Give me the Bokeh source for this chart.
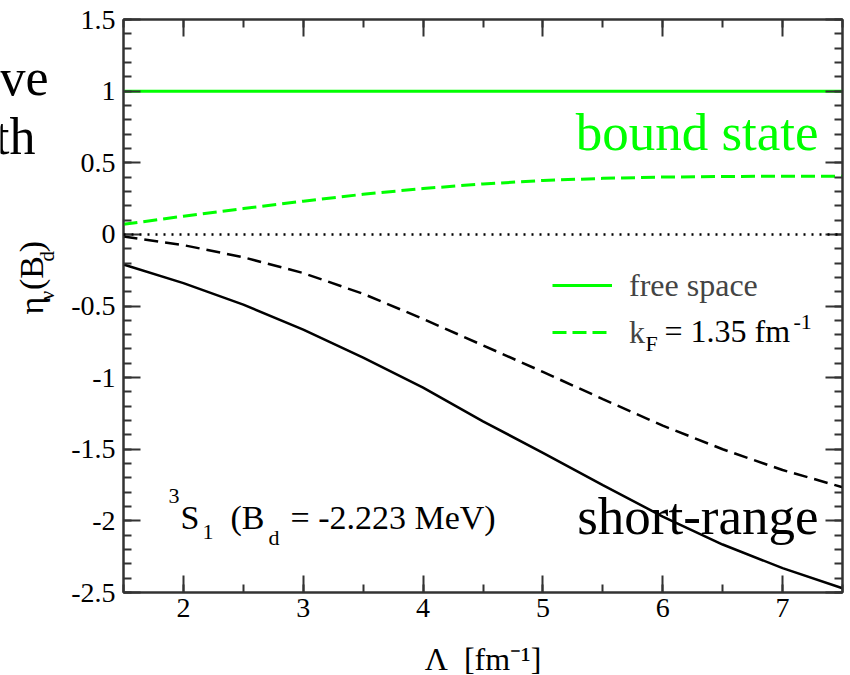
import math
from bokeh.plotting import figure
from bokeh.layouts import row
from bokeh.models import (Range1d, LinearAxis, FixedTicker, PrintfTickFormatter,
                          CustomJSTickFormatter, CustomLabelingPolicy,
                          Span, Label, Legend, LegendItem)
from bokeh.embed import file_html
from bokeh.resources import INLINE

# ---------------- data ----------------
lam = [1.5, 2.0, 2.5, 3.0, 3.5, 4.0, 4.5, 5.0, 5.5, 6.0, 6.5, 7.0, 7.5]
bound_free = [1.0, 1.0, 1.0, 1.0, 1.0, 1.0, 1.0, 1.0, 1.0, 1.0, 1.0, 1.0, 1.0]
bound_kf = [0.07, 0.127, 0.18, 0.232, 0.28, 0.32, 0.352, 0.376, 0.391, 0.40, 0.404, 0.406, 0.406]
short_free = [-0.21, -0.34, -0.49, -0.665, -0.86, -1.07, -1.305, -1.525, -1.75, -1.97, -2.165, -2.33, -2.47]
short_kf = [-0.015, -0.075, -0.16, -0.27, -0.415, -0.59, -0.775, -0.96, -1.15, -1.335, -1.50, -1.645, -1.765]

x_major = [2, 3, 4, 5, 6, 7]
x_minor = [1.5 + 0.5 * k for k in range(13)]
y_major = [-2.5, -2.0, -1.5, -1.0, -0.5, 0.0, 0.5, 1.0, 1.5]
y_minor = [round(-2.5 + 0.1 * k, 1) for k in range(41)]

FONT = "Liberation Serif"
GREEN = "#00ff00"
AX = "#333333"

W, H = 850, 675
LEFT_W = 60          # width of the strip left of the main figure
SHIFT = 0.37         # baseline correction (fraction of font size)

# frame geometry in page pixels (for placing annotation texts)
FL, FR, FT, FB = 123, 842, 19, 592
X0, X1, Y0, Y1 = 1.5, 7.5, -2.5, 1.5


def dx(px):
    return X0 + (px - FL) / (FR - FL) * (X1 - X0)


def dy(py):
    return Y1 - (py - FT) / (FB - FT) * (Y1 - Y0)


p = figure(frame_width=FR - FL, frame_height=FB - FT, title=None,
           x_range=Range1d(X0, X1), y_range=Range1d(Y0, Y1),
           output_backend="svg", toolbar_location=None,
           min_border_left=FL - LEFT_W, min_border_right=W - FR,
           min_border_top=FT, min_border_bottom=H - FB)
p.xgrid.visible = False
p.ygrid.visible = False
p.outline_line_color = AX
p.outline_line_width = 2
p.background_fill_color = "white"
p.border_fill_color = "white"

xt = FixedTicker(ticks=x_major, minor_ticks=x_minor)
yt = FixedTicker(ticks=y_major, minor_ticks=y_minor)

NO_LABELS = CustomLabelingPolicy(code="""
try { for (const i of Array.from(indices)) { indices.unset(i) } } catch (e) {}
return indices
""")


def style_axis(ax, ticker, labels=True):
    ax.ticker = ticker
    ax.major_tick_in = 17
    ax.major_tick_out = 0
    ax.minor_tick_in = 8
    ax.minor_tick_out = 0
    ax.axis_line_width = 2
    ax.axis_line_color = AX
    ax.major_tick_line_width = 2
    ax.major_tick_line_color = AX
    ax.minor_tick_line_width = 2
    ax.minor_tick_line_color = AX
    ax.axis_label = None
    if labels:
        ax.formatter = PrintfTickFormatter(format="%g")
        ax.major_label_text_font = FONT
        ax.major_label_text_font_size = "28px"
        ax.major_label_text_color = "black"
    else:
        ax.formatter = CustomJSTickFormatter(code="return ''")
        ax.major_label_policy = NO_LABELS
        ax.major_label_standoff = 0


xa = p.xaxis[0]
style_axis(xa, xt)
xa.major_label_standoff = 6
xa.axis_label = "\u039b\u00a0\u00a0[fm\u207b\u00b9]"
xa.axis_label_text_font = FONT
xa.axis_label_text_font_size = "32px"
xa.axis_label_text_font_style = "normal"
xa.axis_label_text_color = "black"
xa.axis_label_standoff = 21
style_axis(p.yaxis[0], yt)
p.yaxis[0].major_label_standoff = 8
top = LinearAxis()
style_axis(top, xt, labels=False)
p.add_layout(top, "above")
right = LinearAxis()
style_axis(right, yt, labels=False)
p.add_layout(right, "right")

# ---------------- curves ----------------
p.add_layout(Span(location=0, dimension="width", line_color="black",
                  line_width=2.5, line_dash="2 6"))
r_free = p.line(lam, bound_free, line_color=GREEN, line_width=3)
r_kf = p.line(lam, bound_kf, line_color=GREEN, line_width=3, line_dash="14 6")
p.line(lam, short_free, line_color="black", line_width=2.5)
p.line(lam, short_kf, line_color="black", line_width=2.5, line_dash="14 7")

# ---------------- legend ----------------
for item, cy in ((LegendItem(label="free space", renderers=[r_free]), 285),
                 (LegendItem(label="k", renderers=[r_kf]), 332)):
    lg = Legend(items=[item], location=(552 - FL, FB - cy - 20),
                glyph_width=60, glyph_height=40, label_height=40,
                label_standoff=17, padding=0, margin=0, spacing=0,
                border_line_alpha=0, background_fill_alpha=0,
                label_text_font=FONT, label_text_font_size="32px")
    p.add_layout(lg)


def L(fig, text, x, y, size, color="black", align="left", angle=0.0):
    fig.add_layout(Label(x=x, y=y, text=text, text_font=FONT,
                         text_font_size=f"{size}px", text_color=color,
                         text_align=align, text_baseline="alphabetic",
                         angle=angle))


def M(text, px, py, size, **kw):
    # py is the wanted baseline in page pixels
    L(p, text, dx(px), dy(py - SHIFT * size), size, **kw)


# legend label 2 extras: k_F = 1.35 fm^-1
M("F", 645, 351, 22)
M("= 1.35 fm", 664, 342, 32)
M("-1", 793, 330, 22)

# big labels
M("bound state", 818, 151, 53, color=GREEN, align="right")
M("short-range", 818, 535, 53, align="right")

# 3S1 (B_d = -2.223 MeV)
M("3", 168, 504, 22)
M("S", 180, 530, 34)
M("1", 202, 540, 22)
M("(B", 230, 530, 34)
M("d", 268, 545, 22)
M("= -2.223 MeV)", 290, 530, 34)

# left strip: y-axis label and cut-off slide text
lf = figure(width=LEFT_W, height=H, x_range=Range1d(0, LEFT_W),
            y_range=Range1d(0, H), output_backend="svg", title=None,
            toolbar_location=None, x_axis_type=None, y_axis_type=None,
            min_border=0)
lf.xgrid.visible = False
lf.ygrid.visible = False
lf.outline_line_color = None
lf.background_fill_color = "white"
lf.border_fill_color = "white"


def LF(text, px, py, size, angle=0.0, **kw):
    if angle:
        L(lf, text, px - SHIFT * size, H - py, size, angle=angle, **kw)
    else:
        L(lf, text, px, H - (py - SHIFT * size), size, **kw)


A = math.pi / 2
LF("\u03b7", 44, 350, 34, angle=A)
LF("\u03bd", 54, 333, 21, angle=A)
LF("(B", 44, 321, 34, angle=A)
LF("d", 54, 287, 21, angle=A)
LF(")", 44, 276, 34, angle=A)
LF("ve", 48, 88, 52, align="right")
LF("th", 35, 158, 52, align="right")

layout = row(lf, p, spacing=0)
open("out.html", "w").write(file_html(layout, INLINE))
